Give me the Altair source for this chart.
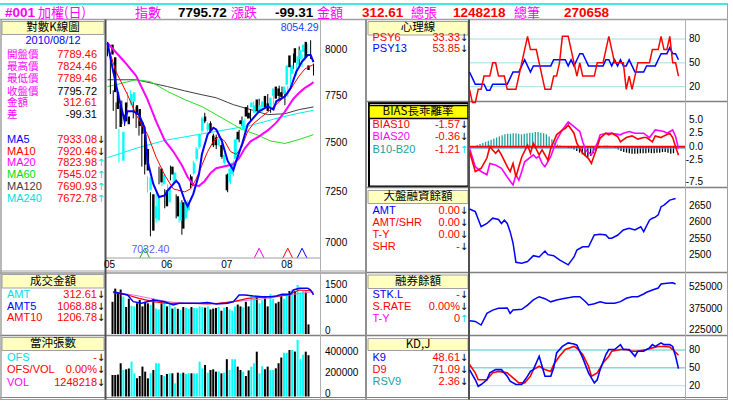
import altair as alt
import pandas as pd

# ---------------- data ----------------
idx = list(range(73))
k_open = [8030,7960,7770,7700,7410,7715,7640,7700,7720,7700,7680,7610,7545,7470,7260,7240,7120,7110,7370,7290,
          7260,7200,7380,7300,7230,7110,7200,7120,7160,7330,7345,7420,7480,7565,7640,7570,7605,7540,7530,7490,
          7490,7400,7340,7300,7340,7420,7560,7620,7570,7690,7660,7690,7660,7730,7670,7690,7750,7710,7690,7750,
          7800,7790,7770,7760,7810,7970,7870,8010,7920,7950,7990,8045,7915]
k_high = [8045,7970,7780,7715,7575,7725,7650,7770,7780,7720,7690,7620,7555,7480,7330,7250,7200,7245,7380,7350,
          7265,7290,7385,7360,7240,7215,7210,7210,7210,7340,7410,7480,7550,7640,7660,7610,7615,7550,7545,7530,
          7500,7450,7345,7380,7410,7530,7570,7640,7630,7700,7680,7720,7710,7735,7710,7725,7760,7715,7750,7795,
          7805,7800,7780,7805,7920,7980,7925,8020,7975,8010,8035,8054.29,7925]
k_low = [7965,7760,7670,7575,7400,7600,7590,7690,7710,7630,7580,7540,7380,7340,7250,7032.4,7090,7100,7290,7280,
         7170,7190,7310,7290,7120,7100,7040,7110,7150,7270,7340,7410,7470,7555,7605,7560,7555,7480,7470,7480,
         7420,7390,7250,7290,7330,7410,7505,7590,7560,7630,7615,7680,7650,7660,7660,7680,7680,7660,7685,7740,
         7725,7740,7700,7745,7805,7895,7860,7915,7905,7940,7980,7950,7860]
k_close = [7975,7770,7680,7585,7560,7615,7600,7760,7770,7650,7590,7550,7390,7360,7325,7060,7180,7235,7300,7340,
           7180,7270,7340,7350,7130,7200,7070,7200,7200,7285,7400,7470,7545,7630,7615,7600,7565,7490,7490,7520,
           7430,7440,7260,7370,7400,7520,7520,7600,7620,7640,7630,7715,7700,7670,7700,7720,7690,7670,7740,7790,
           7735,7750,7745,7800,7915,7905,7915,7930,7965,8000,8030,7960,7890]

ma5_i = [0,2,4,6,7,9,11,13,14,16,18,20,21,24,25,27,28,30,32,33,35,37,38,40,42,44,45,47,49,51,53,56,58,59,62,64,66,68,70,71,72]
ma5_v = [8039,7881,7740,7615,7668,7668,7650,7581,7409,7292,7226,7234,7259,7308,7292,7209,7180,7242,7342,7443,7546,
         7581,7572,7511,7409,7362,7409,7494,7598,7633,7668,7694,7677,7721,7747,7792,7881,7936,7972,7972,7933]
ma10_i = [0,3,7,10,14,17,20,23,27,29,31,33,35,37,39,41,43,45,47,49,51,54,57,60,63,65,67,69,72]
ma10_v = [8028,7880,7756,7650,7546,7428,7337,7267,7252,7267,7317,7387,7457,7510,7536,7510,7457,7443,7484,7562,
          7603,7640,7677,7719,7761,7810,7858,7896,7920]
ma20_i = [0,6,10,14,17,20,23,26,28,30,32,34,36,38,41,44,46,48,50,53,56,59,62,65,67,69,71,72]
ma20_v = [8039,7934,7858,7730,7614,7515,7457,7387,7327,7287,7282,7307,7347,7372,7382,7392,7423,7474,7510,7536,
          7567,7608,7666,7735,7767,7793,7812,7824]
ma60_i = [0,5,10,15,21,27,33,38,44,47,52,57,62,67,72]
ma60_v = [7800,7818,7837,7827,7774,7730,7693,7650,7598,7572,7546,7512,7499,7520,7545]
ma120_i = [0,10,15,21,27,33,38,44,50,56,62,67,72]
ma120_v = [7837,7837,7820,7800,7777,7756,7740,7703,7677,7650,7655,7677,7691]
ma240_i = [0,10,20,30,40,50,60,66,72]
ma240_v = [7426,7474,7515,7541,7567,7593,7634,7655,7673]

amt = [1050,1480,1350,1450,1220,880,1150,920,900,1000,1110,900,1050,1000,950,1150,830,800,1000,1050,
       900,1000,830,880,820,790,880,860,820,880,850,840,900,880,860,900,800,830,850,880,
       760,860,880,800,760,900,960,900,870,1050,900,1250,1150,1200,1000,1100,1200,900,1300,1150,
       1000,1050,1250,1150,1300,1400,1450,1400,1600,1350,1400,1380,312.61]
amt5_i = [2,7,9,12,16,20,23,25,29,32,35,38,42,44,46,48,51,54,57,59,61,64,65,67,70,71,72]
amt5_v = [1380,1272,1054,1000,1109,1054,946,1000,1000,1000,1030,980,1000,1054,1272,1272,1240,1217,1217,1240,
          1300,1300,1435,1490,1490,1435,1272]
amt10_i = [2,7,11,16,21,25,30,35,39,44,49,53,58,63,67,71,72]
amt10_v = [1348,1272,1163,1054,1000,1000,1000,980,1000,1054,1163,1190,1217,1272,1435,1410,1326]
amt20_i = [2,9,15,21,27,32,38,44,50,56,63,67,72]
amt20_v = [1370,1272,1163,1054,1000,1000,1000,1054,1109,1163,1272,1320,1380]

vol = [206000,206000,210000,318000,254000,260000,267000,334000,222000,174000,196000,286000,238000,174000,222000,
       254000,318000,318000,206000,196000,215000,222000,222000,126000,228000,222000,228000,215000,222000,222000,
       222000,222000,334000,270000,302000,228000,254000,260000,238000,240000,222000,228000,357000,254000,357000,
       357000,286000,254000,238000,196000,250000,286000,318000,429000,222000,290000,260000,286000,254000,254000,
       270000,318000,373000,418000,418000,445000,445000,430000,540000,357000,400000,429000,395000]

psy6 = [16.67,0,0,16.67,16.67,33.33,33.33,33.33,50,50,33.33,33.33,33.33,16.67,16.67,16.67,16.67,33.33,50,66.67,
        83.33,66.67,66.67,66.67,50,33.33,16.67,16.67,16.67,33.33,33.33,50,83.33,83.33,83.33,66.67,50,33.33,50,33.33,
        33.33,33.33,33.33,33.33,50,50,50,66.67,83.33,66.67,50,50,50,50,16.67,33.33,16.67,33.33,50,50,
        50,50,50,66.67,66.67,66.67,83.33,66.67,66.67,83.33,50,50,33.33]
psy13 = [38.46,30.77,23.08,23.08,23.08,23.08,15.38,15.38,23.08,23.08,23.08,23.08,23.08,23.08,30.77,38.46,38.46,38.46,46.15,53.85,
         46.15,38.46,46.15,46.15,46.15,46.15,46.15,46.15,46.15,53.85,53.85,53.85,53.85,53.85,46.15,53.85,46.15,53.85,61.54,61.54,
         53.85,46.15,46.15,46.15,46.15,46.15,46.15,53.85,53.85,46.15,53.85,46.15,53.85,46.15,46.15,53.85,46.15,38.46,38.46,38.46,
         38.46,46.15,46.15,46.15,46.15,53.85,61.54,61.54,61.54,69.23,61.54,61.54,53.85]

bias10_i = [0,2,4,6,7,9,10,11,13,14,15,16,17,18,20,21,22,24,25,27,28,30,32,33,34,36,37,39,41,42,44,45,47,48,49,51,52,54,56,58,60,61,63,64,66,67,69,70,71,72]
bias10_v = [-0.9,-4.6,-4.0,-2.1,0.0,-1.2,-0.6,-1.5,-3.7,-4.6,-3.1,-5.6,-3.7,-1.9,0.3,-1.2,0.6,-1.5,-0.6,-2.5,
            -0.3,2.2,3.1,3.4,4.0,2.5,0.6,-1.2,-2.2,-3.1,0.0,1.6,2.5,2.2,2.5,1.9,0.9,1.7,2.0,1.4,
            1.7,1.7,0.9,2.0,1.7,2.0,2.5,1.7,0.0,-1.57]
bias20_i = [0,2,4,6,7,9,11,13,15,16,17,18,19,22,23,24,25,26,28,30,32,34,36,38,39,40,42,44,45,47,49,52,53,55,57,60,62,64,67,68,70,71,72]
bias20_v = [-0.3,-3.7,-4.6,-5.2,-3.1,-3.4,-4.0,-5.6,-7.1,-5.2,-6.2,-4.6,-2.8,-1.5,-2.1,-1.8,-3.1,-3.7,-1.8,1.2,
            3.1,4.6,3.7,2.8,0.9,-0.6,-1.5,0.6,2.2,2.5,2.5,2.2,2.5,2.8,2.5,2.5,1.7,3.1,2.8,2.5,3.1,1.9,-0.36]
b10_b20 = [0,0.3,0.5,0.7,0.9,1.1,1.3,1.5,1.7,1.9,2.1,2.3,2.4,2.4,2.5,2.5,2.4,2.3,2.4,2.5,
           2.6,2.6,2.7,2.7,2.6,2.5,2.3,1.9,1.4,0.8,0.4,0.2,0.1,0.0,-0.2,-0.3,-0.5,-0.8,-1.1,-1.4,
           -1.7,-1.9,-1.7,-1.2,-0.7,-0.2,0.1,0.2,0.2,0.1,0.0,-0.2,-0.5,-0.8,-1.0,-1.1,-1.2,-1.3,-1.3,-1.3,
           -1.2,-1.2,-1.2,-1.1,-1.2,-1.2,-1.1,-1.1,-1.0,-1.0,-1.1,-1.3,-1.21]

margin_i = [0,2,4,6,8,10,11,12,13,14,15,16,18,20,22,24,26,27,29,31,34,36,37,39,41,43,45,47,48,49,51,53,55,57,59,60,62,63,64,65,66,67,69,71]
margin_v = [2640,2632,2586,2596,2612,2608,2596,2606,2596,2571,2536,2478,2475,2480,2498,2494,2512,2501,2498,2485,
            2470,2494,2515,2525,2525,2561,2563,2561,2551,2551,2560,2576,2581,2576,2586,2571,2606,2612,2615,2622,
            2647,2652,2667,2672]

short_i = [0,2,4,6,8,10,13,14,15,18,20,22,24,26,28,30,33,36,38,40,41,43,45,47,50,52,54,56,58,60,61,63,65,66,68,70,71]
short_v = [290000,285000,260000,342000,365000,377000,380000,342000,365000,370000,400000,436000,459000,445000,423000,
           436000,448000,459000,459000,424000,401000,410000,424000,413000,413000,424000,448000,459000,459000,478000,
           490000,506000,520000,548000,553000,557000,548000]

k9_i = [0,2,3,4,6,7,9,11,13,14,16,18,20,21,22,24,25,26,28,29,30,32,34,36,37,39,41,43,44,45,47,48,50,52,53,55,57,58,60,61,62,63,64,66,67,69,70,71,72]
k9_v = [47,30,19,22,30,41.6,47,47,36,27.5,22,22,36,44,47,69.5,52.7,36,36,50,75,86,92,90,88,66.8,41.6,24.8,30,47,
        72.4,80.8,80.8,89,80.8,80.8,69.5,78,78,81,83.6,89,86,92,89,89,86,69.5,48.61]
d9_i = [0,2,3,6,8,10,13,15,17,19,21,22,24,26,28,29,31,33,36,37,39,41,42,44,46,48,49,52,54,56,58,61,63,65,67,69,70,72]
d9_v = [55.5,41.6,30,30,41.6,44,41.6,33,24.8,24.8,36,47,52.7,47,44,55.5,69.5,80.8,86,83,72.4,52.7,36,41.6,58,69.5,
        78,80.8,80.8,78,78,80.8,83.6,86,86,85,80.8,71.09]

k_ticks = [8000, 7750, 7500, 7250, 7000]
month_labels = ["05", "06", "07", "08"]
month_index = [0, 20, 41, 62]
amt_ticks = [1500, 1000, 0]
vol_ticks = [400000, 200000, 0]
psy_ticks = [80, 50, 20]
bias_ticks = [5.0, 2.5, 0.0, -2.5]
bias_low_tick = [-7.5]
margin_ticks = [2650, 2600, 2550, 2500]
short_ticks = [525000, 375000, 225000]
kd_ticks = [80, 50, 20]

# ---------------- helpers ----------------
FONT = "Liberation Sans Narrow, Liberation Sans, Noto Sans CJK TC, sans-serif"
CJK = "Noto Sans CJK TC, sans-serif"
HFONT = "Liberation Sans, Noto Sans CJK TC, sans-serif"


def sc(domain, rng, typ="linear"):
    if typ == "log":
        return alt.Scale(type="log", domain=domain, range=rng, nice=False)
    return alt.Scale(type=typ, domain=domain, range=rng, nice=False, zero=False)


XL = lambda: sc([0, 72], [107.5, 313.5])
XR = lambda: sc([0, 72], [469.5, 678.5])
YK = lambda: sc([7000, 8000], [243, 50], "log")
YAMT = lambda: sc([0, 1500], [334, 288])
YVOL = lambda: sc([0, 400000], [396.5, 354.7])
YPSY = lambda: sc([20, 80], [86.7, 39])
YBIAS = lambda: sc([0, 5], [146.7, 119.7])
YMAR = lambda: sc([2500, 2650], [255, 205.7])
YSHO = lambda: sc([225000, 525000], [330, 287.3])
YKD = lambda: sc([20, 80], [385.7, 350])


def line(xs, ys, xsc, ysc, color, w):
    df = pd.DataFrame({"i": xs, "v": ys})
    return alt.Chart(df).mark_line(color=color, strokeWidth=w).encode(
        x=alt.X("i:Q", scale=xsc, axis=None),
        y=alt.Y("v:Q", scale=ysc, axis=None),
    )


def texts(rows, align="left", size=11, font=FONT, weight="normal", baseline="middle"):
    df = pd.DataFrame(rows, columns=["x", "y", "t", "c"])
    return alt.Chart(df).mark_text(align=align, baseline=baseline, fontSize=size, font=font,
                                   fontWeight=weight).encode(
        x=alt.X("x:Q", scale=None, axis=None),
        y=alt.Y("y:Q", scale=None, axis=None),
        text="t:N",
        color=alt.Color("c:N", scale=None, legend=None),
    )


def ticks_y(vals, ysc, xpix, align="left", baseline="middle", fmt=None):
    df = pd.DataFrame({"v": vals, "t": [fmt(v) if fmt else str(v) for v in vals]})
    return alt.Chart(df).mark_text(align=align, baseline=baseline, fontSize=10, font=FONT,
                                   color="#000000").encode(
        x=alt.value(xpix),
        y=alt.Y("v:Q", scale=ysc, axis=None),
        text="t:N",
    )


def hgrid(vals, ysc, x1, x2, color, w=1):
    df = pd.DataFrame({"v": vals})
    return alt.Chart(df).mark_rule(color=color, strokeWidth=w).encode(
        x=alt.value(x1), x2=alt.value(x2), y=alt.Y("v:Q", scale=ysc, axis=None))


def rules(rows):
    df = pd.DataFrame(rows, columns=["x", "x2", "y", "y2", "c", "w"])
    return alt.Chart(df).mark_rule().encode(
        x=alt.X("x:Q", scale=None, axis=None), x2="x2:Q",
        y=alt.Y("y:Q", scale=None, axis=None), y2="y2:Q",
        color=alt.Color("c:N", scale=None, legend=None),
        strokeWidth=alt.StrokeWidth("w:Q", scale=None, legend=None))


def boxes(rows):
    df = pd.DataFrame(rows, columns=["x", "x2", "y", "y2", "f", "s", "w"])
    return alt.Chart(df).mark_rect().encode(
        x=alt.X("x:Q", scale=None, axis=None), x2="x2:Q",
        y=alt.Y("y:Q", scale=None, axis=None), y2="y2:Q",
        color=alt.Color("f:N", scale=None, legend=None),
        stroke=alt.Stroke("s:N", scale=None, legend=None),
        strokeWidth=alt.StrokeWidth("w:Q", scale=None, legend=None))


layers = []

# ---------------- frame ----------------
layers.append(boxes([
    [2, 104, 21.5, 34.5, "#FFFFC0", "#A0A0A0", 1],
    [2, 104, 274.5, 288, "#FFFFC0", "#A0A0A0", 1],
    [2, 104, 337.5, 350.5, "#FFFFC0", "#A0A0A0", 1],
    [368, 468, 21.5, 35, "#FFFFC0", "#A0A0A0", 1],
    [368, 468, 190.5, 203.5, "#FFFFC0", "#A0A0A0", 1],
    [368, 468, 275, 288.5, "#FFFFC0", "#A0A0A0", 1],
    [368, 468, 338.5, 350.5, "#FFFFC0", "#A0A0A0", 1],
    [369, 468.5, 103, 186.5, "transparent", "#000000", 2],
    [369, 468, 105.5, 118.5, "#FFFF00", "#000000", 1.5],
]))
layers.append(rules([
    [0, 728, 4, 4, "#00E0E0", 1.5],
    [0, 728, 19.5, 19.5, "#A0A0A0", 1.5],
    [0, 366, 271, 271, "#A0A0A0", 1],
    [0, 366, 273, 273, "#606060", 1],
    [0, 366, 335.5, 335.5, "#808080", 1.5],
    [0, 366, 397.5, 397.5, "#808080", 1],
    [0, 366, 399.5, 399.5, "#A0A0A0", 1],
    [366, 728, 101.5, 101.5, "#808080", 1.5],
    [366, 728, 187.5, 187.5, "#808080", 1.5],
    [366, 728, 272.5, 272.5, "#808080", 1.5],
    [366, 728, 335.5, 335.5, "#808080", 1.5],
    [366, 728, 397.5, 397.5, "#808080", 1],
    [366, 728, 399.5, 399.5, "#A0A0A0", 1],
    [105, 320.5, 258, 258, "#A0A0A0", 1],
    [1, 1, 19.5, 399.5, "#A0A0A0", 1.5],
    [105.5, 105.5, 19.5, 399.5, "#505050", 2],
    [320.5, 320.5, 19.5, 399.5, "#B0B0B0", 1],
    [366, 366, 19.5, 399.5, "#909090", 2],
    [469, 469, 19.5, 399.5, "#505050", 2],
    [685.5, 685.5, 19.5, 399.5, "#B0B0B0", 1],
    [727.5, 727.5, 4, 399.5, "#A0A0A0", 1],
]))

# ---------------- header ----------------
layers.append(texts([[5, 13, "#001", "#FF00FF"], [178, 13, "7795.72", "#000000"], [275, 13, "-99.31", "#000000"],
                     [362, 13, "312.61", "#FF0000"], [453, 13, "1248218", "#FF0000"], [564, 13, "270658", "#FF0000"]],
                    size=13.5, font=HFONT, weight="bold"))
layers.append(texts([[38, 13, "加權(日)", "#FF00FF"], [135, 13, "指數", "#FF00FF"], [231, 13, "漲跌", "#FF00FF"],
                     [317, 13, "金額", "#FF00FF"], [411, 13, "總張", "#FF00FF"], [514, 13, "總筆", "#FF00FF"]],
                    size=13, font=CJK))

# ---------------- legend texts ----------------
layers.append(texts([[53, 28, "對數K線圖", "#000000"], [53, 281.5, "成交金額", "#000000"], [53, 344, "當沖張數", "#000000"],
                     [418, 28, "心理線", "#000000"], [418, 112, "BIAS長乖離率", "#000000"],
                     [418, 197, "大盤融資餘額", "#000000"], [418, 282, "融券餘額", "#000000"],
                     [418, 344.5, "KD,J", "#000000"]], align="center", size=11.5, font=CJK))
layers.append(texts([[53, 41, "2010/08/12", "#0000FF"]], align="center", size=11, font=FONT))
layers.append(texts([[7, 55, "開盤價", "#FF00FF"], [7, 67, "最高價", "#FF00FF"], [7, 79, "最低價", "#FF00FF"],
                     [7, 91.5, "收盤價", "#FF00FF"], [7, 103, "金額", "#FF00FF"], [7, 115, "差", "#FF00FF"]],
                    size=10.5, font=CJK))
LX, LV, LA = 7, 97, 101
RX, RV, RA = 372.5, 460, 464
left_labels = [
    [LX, 140, "MA5", "#0000FF"], [LX, 151.7, "MA10", "#FF0000"], [LX, 163.3, "MA20", "#FF00FF"],
    [LX, 175, "MA60", "#00E000"], [LX, 187.3, "MA120", "#404040"], [LX, 199, "MA240", "#00E0E0"],
    [LX, 295, "AMT", "#00E0E0"], [LX, 306.7, "AMT5", "#0000FF"], [LX, 318.3, "AMT10", "#FF0000"],
    [LX, 358.3, "OFS", "#00E0E0"], [LX, 370, "OFS/VOL", "#FF0000"], [LX, 382.7, "VOL", "#FF00FF"],
    [RX, 37.7, "PSY6", "#FF0000"], [RX, 49.3, "PSY13", "#0000FF"],
    [RX, 125, "BIAS10", "#FF0000"], [RX, 137.3, "BIAS20", "#FF00FF"], [RX, 150, "B10-B20", "#20A0A0"],
    [RX, 211, "AMT", "#0000FF"], [RX, 223.3, "AMT/SHR", "#FF0000"], [RX, 235, "T-Y", "#FF0000"],
    [RX, 247.3, "SHR", "#FF0000"],
    [RX, 295, "STK.L", "#0000FF"], [RX, 306.7, "S.RATE", "#FF0000"], [RX, 319, "T-Y", "#FF00FF"],
    [RX, 358.3, "K9", "#0000FF"], [RX, 370, "D9", "#FF0000"], [RX, 381.7, "RSV9", "#20A0A0"],
]
layers.append(texts(left_labels, size=11))
right_vals = [
    [LV, 55, "7789.46", "#FF0000"], [LV, 67, "7824.46", "#FF0000"], [LV, 79, "7789.46", "#FF0000"],
    [LV, 91.5, "7795.72", "#000000"], [LV, 103, "312.61", "#FF0000"], [LV, 115, "-99.31", "#000000"],
    [LV, 140, "7933.08", "#FF0000"], [LV, 151.7, "7920.46", "#FF0000"], [LV, 163.3, "7823.98", "#FF0000"],
    [LV, 175, "7545.02", "#FF0000"], [LV, 187.3, "7690.93", "#FF0000"], [LV, 199, "7672.78", "#FF0000"],
    [LV, 295, "312.61", "#FF0000"], [LV, 306.7, "1068.88", "#FF0000"], [LV, 318.3, "1206.78", "#FF0000"],
    [LV, 358.3, "-", "#FF0000"], [LV, 370, "0.00%", "#FF0000"], [LV, 382.7, "1248218", "#FF0000"],
    [RV, 37.7, "33.33", "#FF0000"], [RV, 49.3, "53.85", "#FF0000"],
    [RV, 125, "-1.57", "#FF0000"], [RV, 137.3, "-0.36", "#FF0000"], [RV, 150, "-1.21", "#FF0000"],
    [RV, 211, "0.00", "#FF0000"], [RV, 223.3, "0.00", "#FF0000"], [RV, 235, "0.00", "#FF0000"],
    [RV, 247.3, "-", "#FF0000"],
    [RV, 295, "-", "#FF0000"], [RV, 306.7, "0.00%", "#FF0000"], [RV, 319, "0", "#FF0000"],
    [RV, 358.3, "48.61", "#FF0000"], [RV, 370, "71.09", "#FF0000"], [RV, 381.7, "2.36", "#FF0000"],
]
layers.append(texts(right_vals, align="right", size=11))
dn, up = "\u2193", "\u2191"
arrows = [
    [LA, 140, dn, "#000000"], [LA, 151.7, dn, "#000000"], [LA, 163.3, up, "#00E0E0"], [LA, 175, up, "#00E0E0"],
    [LA, 187.3, up, "#00E0E0"], [LA, 199, up, "#00E0E0"],
    [LA, 295, dn, "#000000"], [LA, 306.7, dn, "#000000"], [LA, 318.3, dn, "#000000"],
    [LA, 358.3, dn, "#000000"], [LA, 370, dn, "#000000"], [LA, 382.7, dn, "#000000"],
    [RA, 37.7, dn, "#000000"], [RA, 49.3, dn, "#000000"],
    [RA, 125, dn, "#000000"], [RA, 137.3, dn, "#000000"], [RA, 150, up, "#00E0E0"],
    [RA, 211, dn, "#000000"], [RA, 223.3, dn, "#000000"], [RA, 235, dn, "#000000"], [RA, 247.3, dn, "#000000"],
    [RA, 295, dn, "#000000"], [RA, 306.7, dn, "#000000"], [RA, 319, up, "#00E0E0"],
    [RA, 358.3, dn, "#000000"], [RA, 370, dn, "#000000"], [RA, 381.7, dn, "#000000"],
]
layers.append(texts(arrows, align="center", size=10, font="DejaVu Sans"))

# ---------------- K-line panel ----------------
cdf = pd.DataFrame({"i": idx, "o": k_open, "h": k_high, "l": k_low, "c": k_close})
updown = alt.condition("datum.c >= datum.o", alt.value("#00FFFF"), alt.value("#000000"))
layers.append(line(ma240_i, ma240_v, XL(), YK(), "#00F0F0", 1))
layers.append(line(ma120_i, ma120_v, XL(), YK(), "#404040", 1))
layers.append(line(ma60_i, ma60_v, XL(), YK(), "#20E020", 1))
layers.append(alt.Chart(cdf).mark_rule(strokeWidth=1).encode(
    x=alt.X("i:Q", scale=XL(), axis=None), y=alt.Y("l:Q", scale=YK(), axis=None), y2="h:Q", color=updown))
layers.append(alt.Chart(cdf).mark_bar(size=2.4).encode(
    x=alt.X("i:Q", scale=XL(), axis=None), y=alt.Y("o:Q", scale=YK(), axis=None), y2="c:Q", color=updown))
layers.append(line(ma20_i, ma20_v, XL(), YK(), "#FF00FF", 2))
layers.append(line(ma10_i, ma10_v, XL(), YK(), "#FF0000", 1))
layers.append(line(ma5_i, ma5_v, XL(), YK(), "#0000FF", 2))
layers.append(ticks_y(k_ticks, YK(), 325))
mdf = pd.DataFrame({"i": month_index, "t": month_labels})
layers.append(alt.Chart(mdf).mark_text(align="center", baseline="middle", fontSize=10, font=FONT, dx=2).encode(
    x=alt.X("i:Q", scale=XL(), axis=None), y=alt.value(265), text="t:N"))
hi_df = pd.DataFrame({"i": [71], "t": ["8054.29"]})
layers.append(alt.Chart(hi_df).mark_text(align="right", baseline="middle", fontSize=10.5, font=FONT,
                                         color="#2040FF", dx=8).encode(
    x=alt.X("i:Q", scale=XL(), axis=None), y=alt.value(28), text="t:N"))
lo_df = pd.DataFrame({"i": [15], "t": ["7032.40"]})
layers.append(alt.Chart(lo_df).mark_text(align="center", baseline="middle", fontSize=10.5, font=FONT,
                                         color="#6060FF").encode(
    x=alt.X("i:Q", scale=XL(), axis=None), y=alt.value(250), text="t:N"))
sig_df = pd.DataFrame({"i": [13, 53, 63, 68], "c": ["#00C000", "#FF00FF", "#FF0000", "#0000FF"]})
layers.append(alt.Chart(sig_df).mark_point(shape="M-1,1L0,-1L1,1", filled=False, size=90, strokeWidth=1,
                                          opacity=1).encode(
    x=alt.X("i:Q", scale=XL(), axis=None), y=alt.value(253),
    color=alt.Color("c:N", scale=None, legend=None)))

# ---------------- amount panel ----------------
adf = pd.DataFrame({"i": idx, "a": amt, "o": k_open, "c": k_close})
layers.append(alt.Chart(adf).mark_bar(size=2).encode(
    x=alt.X("i:Q", scale=XL(), axis=None), y=alt.Y("a:Q", scale=YAMT(), axis=None), y2=alt.datum(0),
    color=updown))
layers.append(line(amt20_i, amt20_v, XL(), YAMT(), "#E070E0", 1))
layers.append(line(amt10_i, amt10_v, XL(), YAMT(), "#FF0000", 1.2))
layers.append(line(amt5_i, amt5_v, XL(), YAMT(), "#0000FF", 1.5))
layers.append(ticks_y(amt_ticks, YAMT(), 325, baseline="alphabetic"))

# ---------------- volume panel ----------------
vdf = pd.DataFrame({"i": idx, "v": vol, "o": k_open, "c": k_close})
layers.append(alt.Chart(vdf).mark_bar(size=2).encode(
    x=alt.X("i:Q", scale=XL(), axis=None), y=alt.Y("v:Q", scale=YVOL(), axis=None), y2=alt.datum(0),
    color=updown))
layers.append(ticks_y(vol_ticks, YVOL(), 325, baseline="alphabetic"))

# ---------------- PSY ----------------
layers.append(hgrid(psy_ticks, YPSY(), 470, 685, "#A0E0E0"))
layers.append(line(idx, psy13, XR(), YPSY(), "#0000FF", 1.5))
layers.append(line(idx, psy6, XR(), YPSY(), "#FF0000", 1.5))
layers.append(ticks_y(psy_ticks, YPSY(), 689))

# ---------------- BIAS ----------------
bdf = pd.DataFrame({"i": idx, "b": b10_b20})
layers.append(alt.Chart(bdf).mark_bar(size=1.3).encode(
    x=alt.X("i:Q", scale=XR(), axis=None), y=alt.Y("b:Q", scale=YBIAS(), axis=None), y2=alt.datum(0),
    color=alt.condition("datum.b >= 0", alt.value("#20A0A0"), alt.value("#000000"))))
layers.append(alt.Chart(pd.DataFrame({"v": [0]})).mark_rule(color="#60A0E0", strokeWidth=1, yOffset=1.5).encode(
    x=alt.value(470), x2=alt.value(685), y=alt.Y("v:Q", scale=YBIAS(), axis=None)))
layers.append(hgrid([0], YBIAS(), 470, 685, "#FF0000", 2))
layers.append(line(bias20_i, bias20_v, XR(), YBIAS(), "#FF00FF", 1.6))
layers.append(line(bias10_i, bias10_v, XR(), YBIAS(), "#FF0000", 1.6))
layers.append(ticks_y(bias_ticks, YBIAS(), 703, align="right", fmt=lambda v: f"{v:.1f}"))
layers.append(ticks_y(bias_low_tick, YBIAS(), 703, align="right", baseline="bottom", fmt=lambda v: f"{v:.1f}"))

# ---------------- margin ----------------
layers.append(line(margin_i, margin_v, XR(), YMAR(), "#0000FF", 1.5))
layers.append(ticks_y(margin_ticks, YMAR(), 689))

# ---------------- short ----------------
layers.append(line(short_i, short_v, XR(), YSHO(), "#0000FF", 1.5))
layers.append(ticks_y(short_ticks, YSHO(), 689))

# ---------------- KD ----------------
layers.append(hgrid([80, 50], YKD(), 470, 685, "#40C8C8"))
layers.append(hgrid([20], YKD(), 470, 685, "#A8E8E8"))
layers.append(line(d9_i, d9_v, XR(), YKD(), "#FF0000", 1.6))
layers.append(line(k9_i, k9_v, XR(), YKD(), "#0000FF", 1.6))
layers.append(ticks_y(kd_ticks, YKD(), 689))

chart = alt.layer(*layers).resolve_scale(x="independent", y="independent").properties(
    width=733, height=406, autosize=alt.AutoSizeParams(type="none"), padding=0,
    background="#FFFFFF").configure_view(stroke=None)

chart.save("out.html", embed_options={"renderer": "svg", "actions": False})
